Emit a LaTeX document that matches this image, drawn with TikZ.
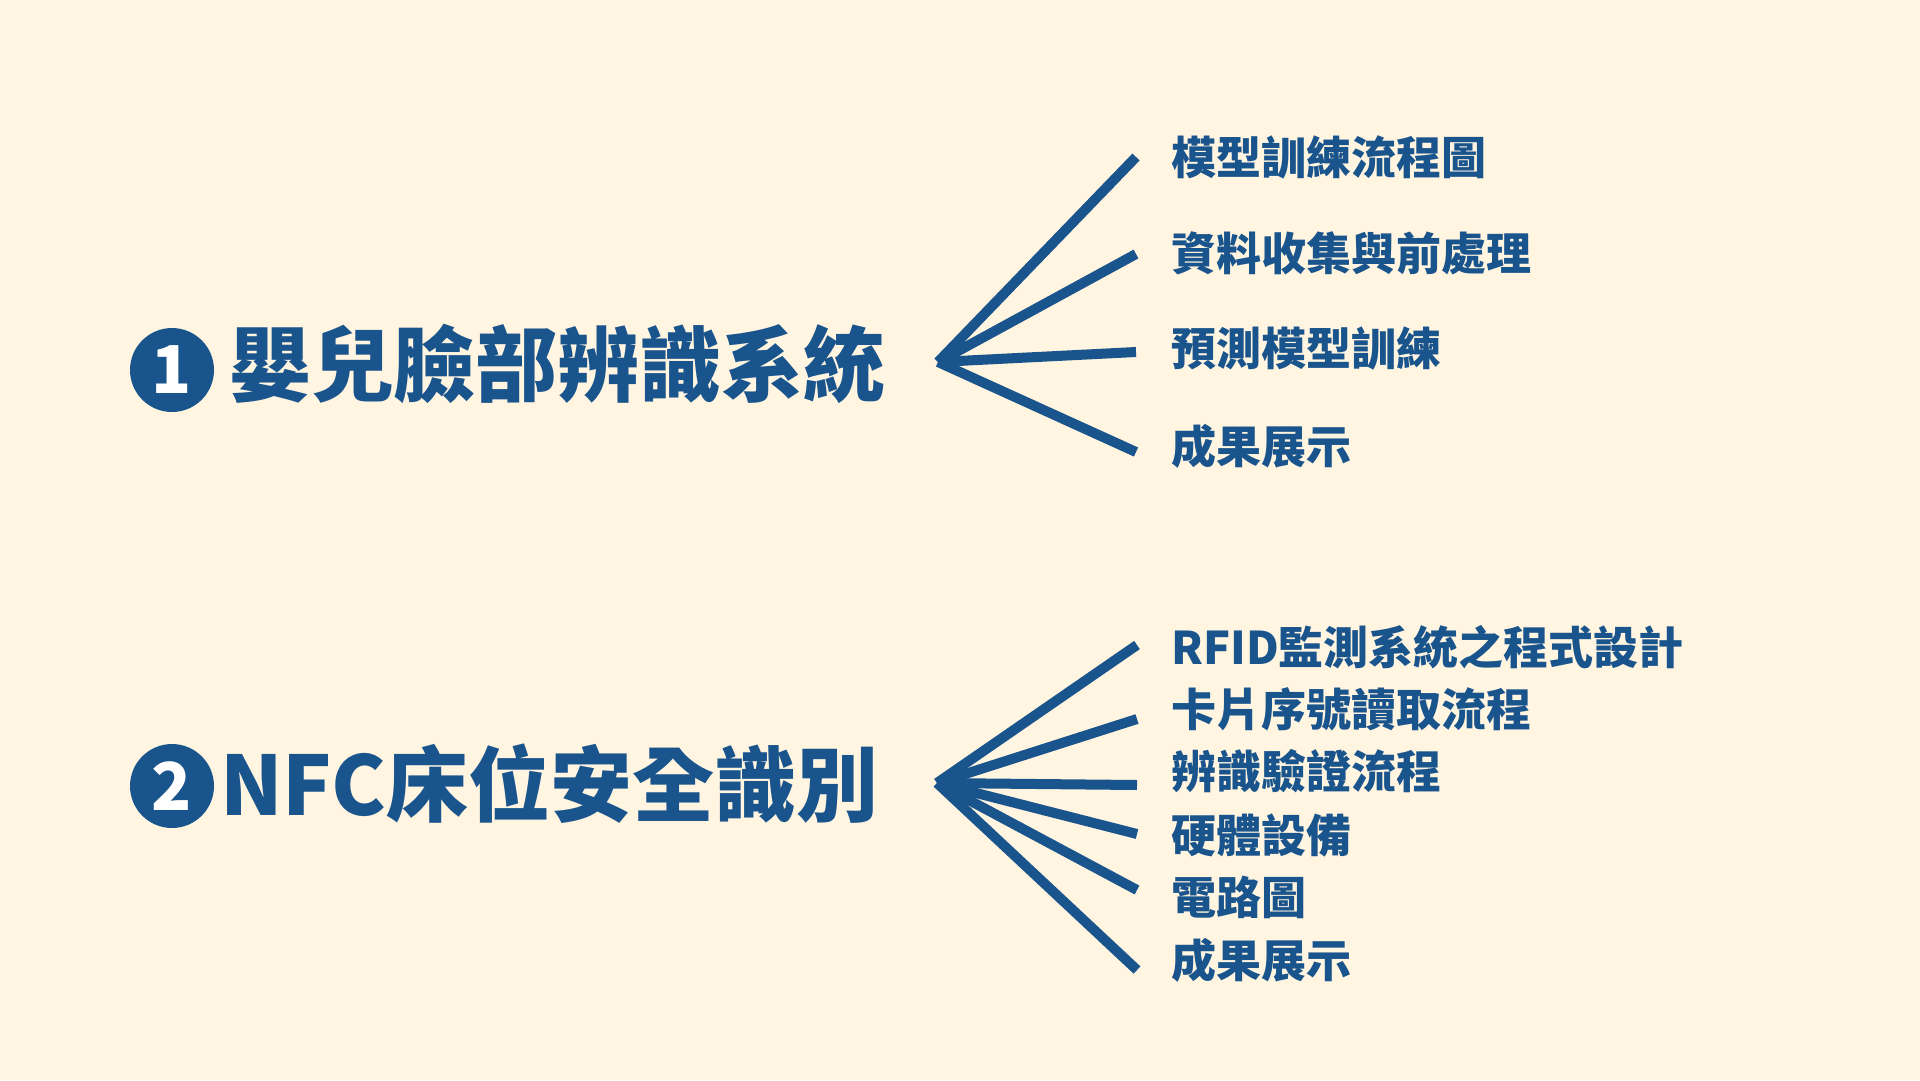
\documentclass[tikz,border=0pt]{standalone}
\usepackage{fontspec}
\setmainfont{Noto Sans CJK TC}
\definecolor{bg}{RGB}{255,245,225}
\definecolor{navy}{RGB}{26,84,140}
\begin{document}
\begin{tikzpicture}[x=1pt,y=-1pt,
  fanline/.style={draw=navy,line width=10pt},
  title/.style={anchor=west,inner sep=0pt,text=navy,font=\fontsize{82}{82}\selectfont\bfseries},
  item/.style={anchor=west,inner sep=0pt,text=navy,font=\fontsize{45}{45}\selectfont\bfseries},
  badge/.style={circle,fill=navy,minimum size=84pt,inner sep=0pt,text=white,font=\fontsize{66}{66}\selectfont\bfseries}]
\fill[bg] (0,0) rectangle (1920,1080);
\useasboundingbox (0,0) rectangle (1920,1080);

% group 1
\node[badge] (b1) at (172,370) {1};
\node[title] (t1) at (229,364) {嬰兒臉部辨識系統};
\coordinate (h1) at (938,362);
\coordinate (e11) at (1136,157);
\coordinate (e12) at (1136,254);
\coordinate (e13) at (1136,352);
\coordinate (e14) at (1136,452);
\foreach \i in {1,...,4} \draw[fanline] (h1) -- (e1\i);
\node[item] (l11) at (1171,157) {模型訓練流程圖};
\node[item] (l12) at (1171,253) {資料收集與前處理};
\node[item] (l13) at (1171,349) {預測模型訓練};
\node[item] (l14) at (1171,446) {成果展示};

% group 2
\node[badge] (b2) at (172,786) {2};
\node[title] (t2) at (220,784) {NFC床位安全識別};
\coordinate (h2) at (937,783);
\coordinate (e21) at (1137,645);
\coordinate (e22) at (1137,719);
\coordinate (e23) at (1137,785);
\coordinate (e24) at (1137,834);
\coordinate (e25) at (1137,890);
\coordinate (e26) at (1137,970);
\foreach \i in {1,...,6} \draw[fanline] (h2) -- (e2\i);
\node[item] (l21) at (1171,647) {RFID監測系統之程式設計};
\node[item] (l22) at (1171,709) {卡片序號讀取流程};
\node[item] (l23) at (1171,771) {辨識驗證流程};
\node[item] (l24) at (1171,835) {硬體設備};
\node[item] (l25) at (1171,897) {電路圖};
\node[item] (l26) at (1171,960) {成果展示};
\end{tikzpicture}
\end{document}
